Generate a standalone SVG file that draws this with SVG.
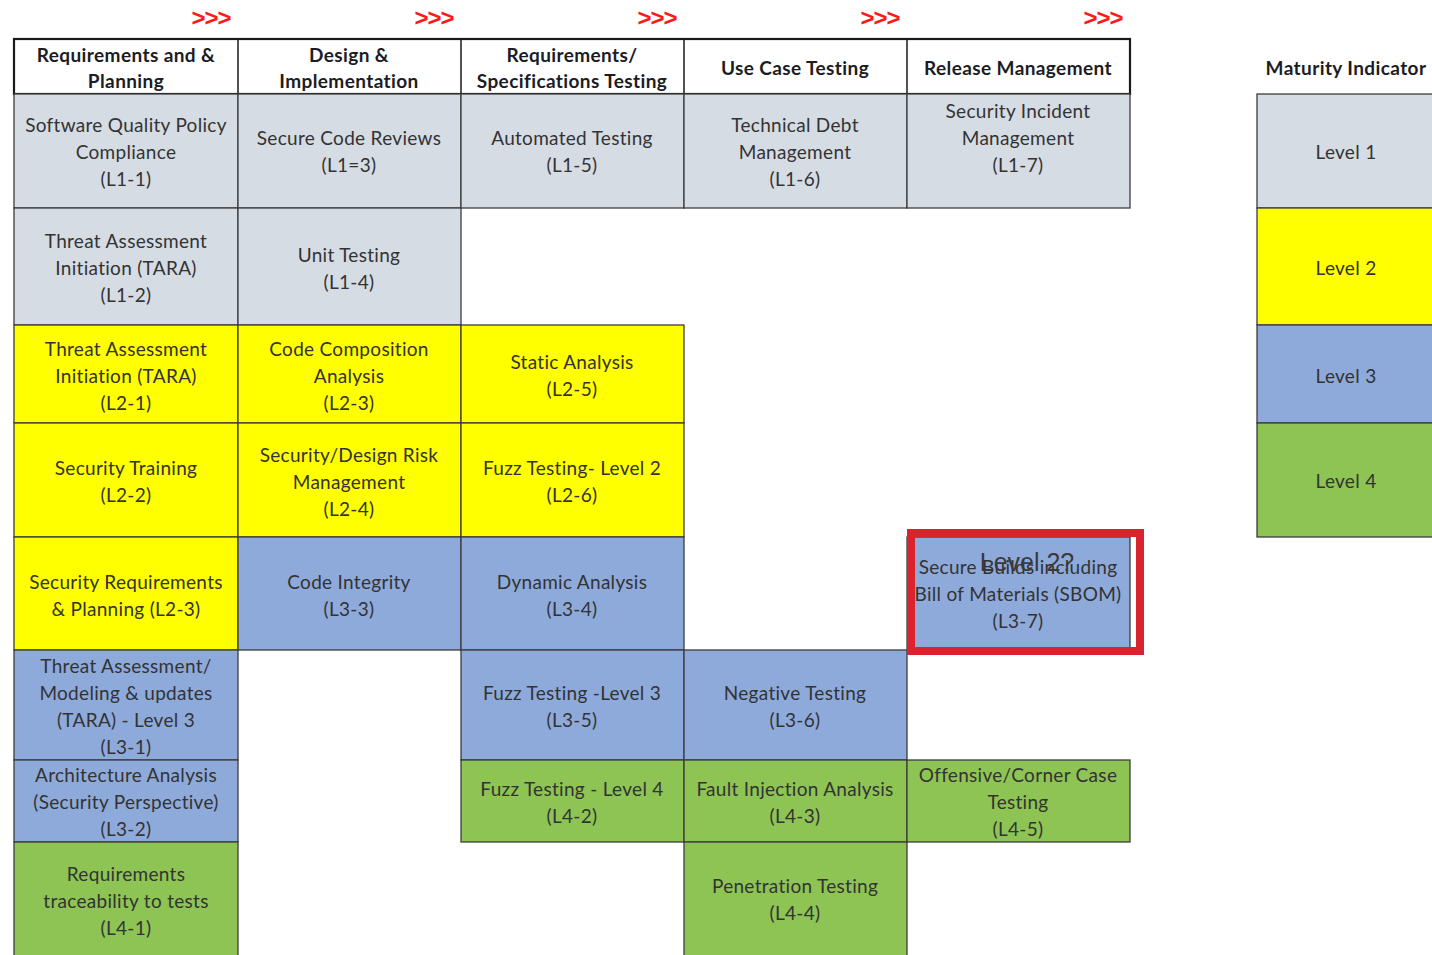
<svg xmlns="http://www.w3.org/2000/svg" width="1432" height="955" viewBox="0 0 1432 955">
<style>
.bg{fill:#ffffff}
.c{stroke:#3c3c3c;stroke-width:1.3}
.l1{fill:#D6DCE4}
.l2{fill:#FFFF00}
.l3{fill:#8EAADB}
.l4{fill:#8DC454}
.hd{fill:#ffffff;stroke:#1a1a1a;stroke-width:2.2}
.t{font-family:Lato,"Open Sans",sans-serif;font-size:19px;letter-spacing:0.3px;fill:#333333;text-anchor:middle;dominant-baseline:central}
.h{font-family:Lato,"Open Sans",sans-serif;font-size:19px;letter-spacing:0.4px;font-weight:bold;fill:#1c1c24;text-anchor:middle;dominant-baseline:central}
.arr{font-family:"Liberation Sans",Arial,sans-serif;font-size:24px;font-weight:bold;fill:#FF1A1A;text-anchor:middle;dominant-baseline:central;letter-spacing:-1px}
.ov{font-family:"Liberation Sans",Arial,sans-serif;font-size:25px;fill:#3a3a3a;text-anchor:middle}
</style>
<rect class="bg" x="0" y="0" width="1432" height="955"/>

<g id="arrows">
<text class="arr" x="211" y="17">&gt;&gt;&gt;</text>
<text class="arr" x="434" y="17">&gt;&gt;&gt;</text>
<text class="arr" x="657" y="17">&gt;&gt;&gt;</text>
<text class="arr" x="880" y="17">&gt;&gt;&gt;</text>
<text class="arr" x="1103" y="17">&gt;&gt;&gt;</text>
</g>

<g id="header">
<rect class="hd" x="14" y="39" width="1116" height="55"/>
<line x1="238" y1="39" x2="238" y2="94" stroke="#1a1a1a" stroke-width="1.5"/>
<line x1="461" y1="39" x2="461" y2="94" stroke="#1a1a1a" stroke-width="1.5"/>
<line x1="684" y1="39" x2="684" y2="94" stroke="#1a1a1a" stroke-width="1.5"/>
<line x1="907" y1="39" x2="907" y2="94" stroke="#1a1a1a" stroke-width="1.5"/>
<text class="h"><tspan x="126" y="54">Requirements and &amp;</tspan><tspan x="126" y="80">Planning</tspan></text>
<text class="h"><tspan x="349" y="54">Design &amp;</tspan><tspan x="349" y="80">Implementation</tspan></text>
<text class="h"><tspan x="572" y="54">Requirements/</tspan><tspan x="572" y="80">Specifications Testing</tspan></text>
<text class="h" x="795" y="67">Use Case Testing</text>
<text class="h" x="1018" y="67">Release Management</text>
</g>

<g id="L1-1"><rect class="c l1" x="14" y="94" width="224" height="114"/>
<text class="t"><tspan x="126" y="124">Software Quality Policy</tspan><tspan x="126" y="151">Compliance</tspan><tspan x="126" y="178">(L1-1)</tspan></text></g>
<g id="L1-2"><rect class="c l1" x="14" y="208" width="224" height="117"/>
<text class="t"><tspan x="126" y="240">Threat Assessment</tspan><tspan x="126" y="267">Initiation (TARA)</tspan><tspan x="126" y="294">(L1-2)</tspan></text></g>
<g id="L2-1"><rect class="c l2" x="14" y="325" width="224" height="98"/>
<text class="t"><tspan x="126" y="348">Threat Assessment</tspan><tspan x="126" y="375">Initiation (TARA)</tspan><tspan x="126" y="402">(L2-1)</tspan></text></g>
<g id="L2-2"><rect class="c l2" x="14" y="423" width="224" height="114"/>
<text class="t"><tspan x="126" y="467">Security Training</tspan><tspan x="126" y="494">(L2-2)</tspan></text></g>
<g id="L2-3"><rect class="c l2" x="14" y="537" width="224" height="113"/>
<text class="t"><tspan x="126" y="581">Security Requirements</tspan><tspan x="126" y="608">&amp; Planning (L2-3)</tspan></text></g>
<g id="L3-1"><rect class="c l3" x="14" y="650" width="224" height="110"/>
<text class="t"><tspan x="126" y="665">Threat Assessment/</tspan><tspan x="126" y="692">Modeling &amp; updates</tspan><tspan x="126" y="719">(TARA) - Level 3</tspan><tspan x="126" y="746">(L3-1)</tspan></text></g>
<g id="L3-2"><rect class="c l3" x="14" y="760" width="224" height="82"/>
<text class="t"><tspan x="126" y="774">Architecture Analysis</tspan><tspan x="126" y="801">(Security Perspective)</tspan><tspan x="126" y="828">(L3-2)</tspan></text></g>
<g id="L4-1"><rect class="c l4" x="14" y="842" width="224" height="118"/>
<text class="t"><tspan x="126" y="873">Requirements</tspan><tspan x="126" y="900">traceability to tests</tspan><tspan x="126" y="927">(L4-1)</tspan></text></g>

<g id="L1-3"><rect class="c l1" x="238" y="94" width="223" height="114"/>
<text class="t"><tspan x="349" y="137">Secure Code Reviews</tspan><tspan x="349" y="164">(L1=3)</tspan></text></g>
<g id="L1-4"><rect class="c l1" x="238" y="208" width="223" height="117"/>
<text class="t"><tspan x="349" y="254">Unit Testing</tspan><tspan x="349" y="281">(L1-4)</tspan></text></g>
<g id="L2-3b"><rect class="c l2" x="238" y="325" width="223" height="98"/>
<text class="t"><tspan x="349" y="348">Code Composition</tspan><tspan x="349" y="375">Analysis</tspan><tspan x="349" y="402">(L2-3)</tspan></text></g>
<g id="L2-4"><rect class="c l2" x="238" y="423" width="223" height="114"/>
<text class="t"><tspan x="349" y="454">Security/Design Risk</tspan><tspan x="349" y="481">Management</tspan><tspan x="349" y="508">(L2-4)</tspan></text></g>
<g id="L3-3"><rect class="c l3" x="238" y="537" width="223" height="113"/>
<text class="t"><tspan x="349" y="581">Code Integrity</tspan><tspan x="349" y="608">(L3-3)</tspan></text></g>

<g id="L1-5"><rect class="c l1" x="461" y="94" width="223" height="114"/>
<text class="t"><tspan x="572" y="137">Automated Testing</tspan><tspan x="572" y="164">(L1-5)</tspan></text></g>
<g id="L2-5"><rect class="c l2" x="461" y="325" width="223" height="98"/>
<text class="t"><tspan x="572" y="361">Static Analysis</tspan><tspan x="572" y="388">(L2-5)</tspan></text></g>
<g id="L2-6"><rect class="c l2" x="461" y="423" width="223" height="114"/>
<text class="t"><tspan x="572" y="467">Fuzz Testing- Level 2</tspan><tspan x="572" y="494">(L2-6)</tspan></text></g>
<g id="L3-4"><rect class="c l3" x="461" y="537" width="223" height="113"/>
<text class="t"><tspan x="572" y="581">Dynamic Analysis</tspan><tspan x="572" y="608">(L3-4)</tspan></text></g>
<g id="L3-5"><rect class="c l3" x="461" y="650" width="223" height="110"/>
<text class="t"><tspan x="572" y="692">Fuzz Testing -Level 3</tspan><tspan x="572" y="719">(L3-5)</tspan></text></g>
<g id="L4-2"><rect class="c l4" x="461" y="760" width="223" height="82"/>
<text class="t"><tspan x="572" y="788">Fuzz Testing - Level 4</tspan><tspan x="572" y="815">(L4-2)</tspan></text></g>

<g id="L1-6"><rect class="c l1" x="684" y="94" width="223" height="114"/>
<text class="t"><tspan x="795" y="124">Technical Debt</tspan><tspan x="795" y="151">Management</tspan><tspan x="795" y="178">(L1-6)</tspan></text></g>
<g id="L3-6"><rect class="c l3" x="684" y="650" width="223" height="110"/>
<text class="t"><tspan x="795" y="692">Negative Testing</tspan><tspan x="795" y="719">(L3-6)</tspan></text></g>
<g id="L4-3"><rect class="c l4" x="684" y="760" width="223" height="82"/>
<text class="t"><tspan x="795" y="788">Fault Injection Analysis</tspan><tspan x="795" y="815">(L4-3)</tspan></text></g>
<g id="L4-4"><rect class="c l4" x="684" y="842" width="223" height="118"/>
<text class="t"><tspan x="795" y="885">Penetration Testing</tspan><tspan x="795" y="912">(L4-4)</tspan></text></g>

<g id="L1-7"><rect class="c l1" x="907" y="94" width="223" height="114"/>
<text class="t"><tspan x="1018" y="110">Security Incident</tspan><tspan x="1018" y="137">Management</tspan><tspan x="1018" y="164">(L1-7)</tspan></text></g>
<g id="L3-7"><rect class="c l3" x="907" y="537" width="223" height="113"/>
<text class="t"><tspan x="1018" y="566">Secure Builds including</tspan><tspan x="1018" y="593">Bill of Materials (SBOM)</tspan><tspan x="1018" y="620">(L3-7)</tspan></text></g>
<g id="L4-5"><rect class="c l4" x="907" y="760" width="223" height="82"/>
<text class="t"><tspan x="1018" y="774">Offensive/Corner Case</tspan><tspan x="1018" y="801">Testing</tspan><tspan x="1018" y="828">(L4-5)</tspan></text></g>

<g id="annotation">
<rect x="911" y="533" width="229" height="118" fill="none" stroke="#D9232D" stroke-width="8"/>
<text class="ov" x="1027" y="571">Level 2?</text>
</g>

<g id="maturity-indicator">
<text class="h" x="1346" y="67">Maturity Indicator</text>
<g id="level-1"><rect class="c l1" x="1257" y="94" width="190" height="114"/><text class="t" x="1346" y="151">Level 1</text></g>
<g id="level-2"><rect class="c l2" x="1257" y="208" width="190" height="117"/><text class="t" x="1346" y="267">Level 2</text></g>
<g id="level-3"><rect class="c l3" x="1257" y="325" width="190" height="98"/><text class="t" x="1346" y="375">Level 3</text></g>
<g id="level-4"><rect class="c l4" x="1257" y="423" width="190" height="114"/><text class="t" x="1346" y="480">Level 4</text></g>
</g>

<g id="connectors"/>
</svg>
